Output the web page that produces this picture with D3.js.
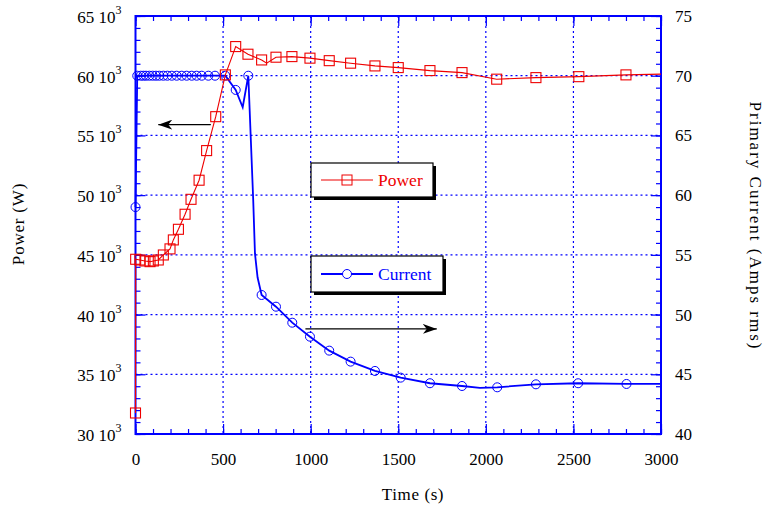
<!DOCTYPE html>
<html>
<head>
<meta charset="utf-8">
<script src="https://cdn.jsdelivr.net/npm/d3@7"></script>
<style>
  body { margin: 0; background: #fff; }
  svg text { font-family: "Liberation Serif", "Times New Roman", serif; }
</style>
</head>
<body>
<svg id="chart" width="773" height="508"></svg>
<script>
// Power (W) vs time (s), left axis. mark = 1 where a square marker is drawn
const powerT = [0, 1, 25, 54, 83, 102, 130, 159, 197, 216, 245, 283, 317, 363, 406, 458, 513, 572, 642, 720, 749, 802, 893, 996, 1106, 1228, 1367, 1500, 1681, 1864, 2062, 2286, 2531, 2800, 3000];
const powerW = [31760, 44630, 44570, 44490, 44430, 44490, 44570, 44990, 45500, 46250, 47140, 48400, 49650, 51250, 53730, 56570, 60070, 62440, 61800, 61320, 61050, 61550, 61600, 61470, 61260, 61050, 60820, 60680, 60430, 60260, 59710, 59840, 59920, 60070, 60130];
const powerMark = [1, 1, 1, 1, 1, 1, 1, 1, 1, 1, 1, 1, 1, 1, 1, 1, 1, 1, 1, 1, 0, 1, 1, 1, 1, 1, 1, 1, 1, 1, 1, 1, 1, 1, 0];

// Primary current (A rms) vs time (s), right axis. mark = 1 where a circle is drawn
const currentT = [0, 10, 30, 45, 60, 79, 98, 117, 136, 159, 182, 207, 235, 264, 292, 321, 349, 378, 416, 454, 513, 572, 612, 644, 672, 682, 697, 720, 802, 895, 996, 1106, 1228, 1367, 1514, 1681, 1864, 1966, 2065, 2286, 2527, 2803, 3000];
const currentA = [59.0, 70, 70, 70, 70, 70, 70, 70, 70, 70, 70, 70, 70, 70, 70, 70, 70, 70, 70, 70, 70, 68.81, 67.36, 70.0, 59.6, 55.1, 53.1, 51.64, 50.66, 49.32, 48.15, 46.98, 46.06, 45.28, 44.72, 44.25, 44.02, 43.86, 43.91, 44.16, 44.25, 44.19, 44.19];
const currentMark = [1, 1, 1, 1, 1, 1, 1, 1, 1, 1, 1, 1, 1, 1, 1, 1, 1, 1, 1, 1, 1, 1, 0, 1, 0, 0, 0, 1, 1, 1, 1, 1, 1, 1, 1, 1, 1, 0, 1, 1, 1, 1, 0];

const xTicks = [0, 500, 1000, 1500, 2000, 2500, 3000];
const powerTicks = [30000, 35000, 40000, 45000, 50000, 55000, 60000, 65000];
const currentTicks = [40, 45, 50, 55, 60, 65, 70, 75];

const svg = d3.select("#chart");
const plotL = 135.5, plotR = 661, plotT = 16, plotB = 434;
const blue = "#0000ff", red = "#ee0000";

const x = d3.scaleLinear().domain([0, 3000]).range([plotL, plotR]);
const yP = d3.scaleLinear().domain([30000, 65000]).range([plotB, plotT]);
const yC = d3.scaleLinear().domain([40, 75]).range([plotB, plotT]);

// grid lines (dotted blue)
let grid = svg.append("g")
  .attr("stroke", blue)
  .attr("stroke-width", 1.2)
  .attr("stroke-dasharray", "2,3");
grid.selectAll("line.v")
  .data(xTicks.slice(1, -1))
  .join("line")
  .attr("class", "v")
  .attr("x1", d => x(d)).attr("x2", d => x(d))
  .attr("y1", plotT).attr("y2", plotB);
grid.selectAll("line.h")
  .data(powerTicks.slice(1, -1))
  .join("line")
  .attr("class", "h")
  .attr("x1", plotL).attr("x2", plotR)
  .attr("y1", d => yP(d)).attr("y2", d => yP(d));

// axes: major + minor ticks pointing inward
function styleAxis(g) {
  g.select(".domain").remove();
  g.selectAll(".tick line").attr("stroke", blue).attr("stroke-width", 1.2);
  g.selectAll("text").attr("fill", "#000").attr("font-size", 17);
}
const xMinor = d3.range(0, 3001, 100);
const pMinor = d3.range(30000, 65001, 1000);

svg.append("g").attr("transform", `translate(0,${plotB})`)
  .call(d3.axisBottom(x).tickValues(xMinor).tickSize(-5).tickFormat(""))
  .call(styleAxis);
svg.append("g").attr("transform", `translate(0,${plotB})`)
  .call(d3.axisBottom(x).tickValues(xTicks).tickSize(-10).tickPadding(19).tickFormat(d3.format("d")))
  .call(styleAxis);
svg.append("g").attr("transform", `translate(0,${plotT})`)
  .call(d3.axisTop(x).tickValues(xMinor).tickSize(-5).tickFormat(""))
  .call(styleAxis);
svg.append("g").attr("transform", `translate(0,${plotT})`)
  .call(d3.axisTop(x).tickValues(xTicks).tickSize(-10).tickFormat(""))
  .call(styleAxis);

svg.append("g").attr("transform", `translate(${plotL},0)`)
  .call(d3.axisLeft(yP).tickValues(pMinor).tickSize(-5).tickFormat(""))
  .call(styleAxis);
let leftAxis = svg.append("g").attr("transform", `translate(${plotL},0)`)
  .call(d3.axisLeft(yP).tickValues(powerTicks).tickSize(-10).tickPadding(14).tickFormat(d => d / 1000 + " 10"))
  .call(styleAxis);
leftAxis.selectAll(".tick text")
  .attr("dy", "0.38em")
  .append("tspan")
  .attr("font-size", 12)
  .attr("dy", "-0.75em")
  .text("3");

svg.append("g").attr("transform", `translate(${plotR},0)`)
  .call(d3.axisRight(yC).tickValues(d3.range(40, 76, 1)).tickSize(-5).tickFormat(""))
  .call(styleAxis);
svg.append("g").attr("transform", `translate(${plotR},0)`)
  .call(d3.axisRight(yC).tickValues(currentTicks).tickSize(-10).tickPadding(14).tickFormat(d3.format("d")))
  .call(styleAxis);

// frame
svg.append("rect")
  .attr("x", plotL).attr("y", plotT)
  .attr("width", plotR - plotL).attr("height", plotB - plotT)
  .attr("fill", "none").attr("stroke", blue).attr("stroke-width", 2);

// current series
const currentData = currentT.map((t, i) => ({t: t, v: currentA[i], m: currentMark[i]}));
svg.append("path")
  .datum(currentData)
  .attr("fill", "none").attr("stroke", blue).attr("stroke-width", 1.8)
  .attr("d", d3.line().x(d => x(d.t)).y(d => yC(d.v)));
svg.append("g").selectAll("circle")
  .data(currentData.filter(d => d.m))
  .join("circle")
  .attr("cx", d => x(d.t)).attr("cy", d => yC(d.v)).attr("r", 4.5)
  .attr("fill", "none").attr("stroke", blue).attr("stroke-width", 1);

// power series
const powerData = powerT.map((t, i) => ({t: t, v: powerW[i], m: powerMark[i]}));
svg.append("path")
  .datum(powerData)
  .attr("fill", "none").attr("stroke", red).attr("stroke-width", 1.1)
  .attr("d", d3.line().x(d => x(d.t)).y(d => yP(d.v)));
svg.append("g").selectAll("rect")
  .data(powerData.filter(d => d.m))
  .join("rect")
  .attr("x", d => x(d.t) - 5).attr("y", d => yP(d.v) - 5)
  .attr("width", 10).attr("height", 10)
  .attr("fill", "none").attr("stroke", red).attr("stroke-width", 1.1);

// arrows
svg.append("defs").append("marker")
  .attr("id", "head")
  .attr("viewBox", "0 0 14 10")
  .attr("refX", 14).attr("refY", 5)
  .attr("markerWidth", 14).attr("markerHeight", 10)
  .attr("markerUnits", "userSpaceOnUse")
  .attr("orient", "auto")
  .append("path")
  .attr("d", "M0,0 L14,5 L0,10 L4,5 Z")
  .attr("fill", "#000");
svg.append("line")
  .attr("x1", x(430)).attr("y1", yP(55900))
  .attr("x2", x(130)).attr("y2", yP(55900))
  .attr("stroke", "#000").attr("stroke-width", 1.2)
  .attr("marker-end", "url(#head)");
svg.append("line")
  .attr("x1", x(970)).attr("y1", yC(48.8))
  .attr("x2", x(1720)).attr("y2", yC(48.8))
  .attr("stroke", "#000").attr("stroke-width", 1.2)
  .attr("marker-end", "url(#head)");

// legend boxes
function legendBox(bx, by, bw, bh, color, label, shape) {
  let g = svg.append("g");
  g.append("rect").attr("x", bx + 3).attr("y", by + 3).attr("width", bw).attr("height", bh).attr("fill", "#000");
  g.append("rect").attr("x", bx).attr("y", by).attr("width", bw).attr("height", bh)
    .attr("fill", "#fff").attr("stroke", "#000").attr("stroke-width", 1.2);
  let cy = by + bh / 2;
  g.append("line").attr("x1", bx + 10).attr("x2", bx + 62).attr("y1", cy).attr("y2", cy)
    .attr("stroke", color).attr("stroke-width", shape === "circle" ? 1.8 : 1.1);
  if (shape === "circle") {
    g.append("circle").attr("cx", bx + 36).attr("cy", cy).attr("r", 4.5)
      .attr("fill", "#fff").attr("stroke", color);
  } else {
    g.append("rect").attr("x", bx + 31).attr("y", cy - 5).attr("width", 10).attr("height", 10)
      .attr("fill", "none").attr("stroke", color);
  }
  g.append("text").attr("x", bx + 67).attr("y", cy + 6)
    .attr("font-size", 17.5).attr("fill", color).text(label);
}
legendBox(311, 163, 122, 34, red, "Power", "square");
legendBox(311, 256, 132, 36, blue, "Current", "circle");

// axis titles
svg.append("text")
  .attr("transform", "translate(24,224) rotate(-90)")
  .attr("text-anchor", "middle").attr("font-size", 17).attr("letter-spacing", 0.8).text("Power (W)");
svg.append("text")
  .attr("transform", "translate(750,226) rotate(90)")
  .attr("text-anchor", "middle").attr("font-size", 17).attr("letter-spacing", 2).text("Primary Current (Amps rms)");
svg.append("text")
  .attr("x", 413).attr("y", 500)
  .attr("text-anchor", "middle").attr("font-size", 17).attr("letter-spacing", 0.6).text("Time (s)");
</script>
</body>
</html>
